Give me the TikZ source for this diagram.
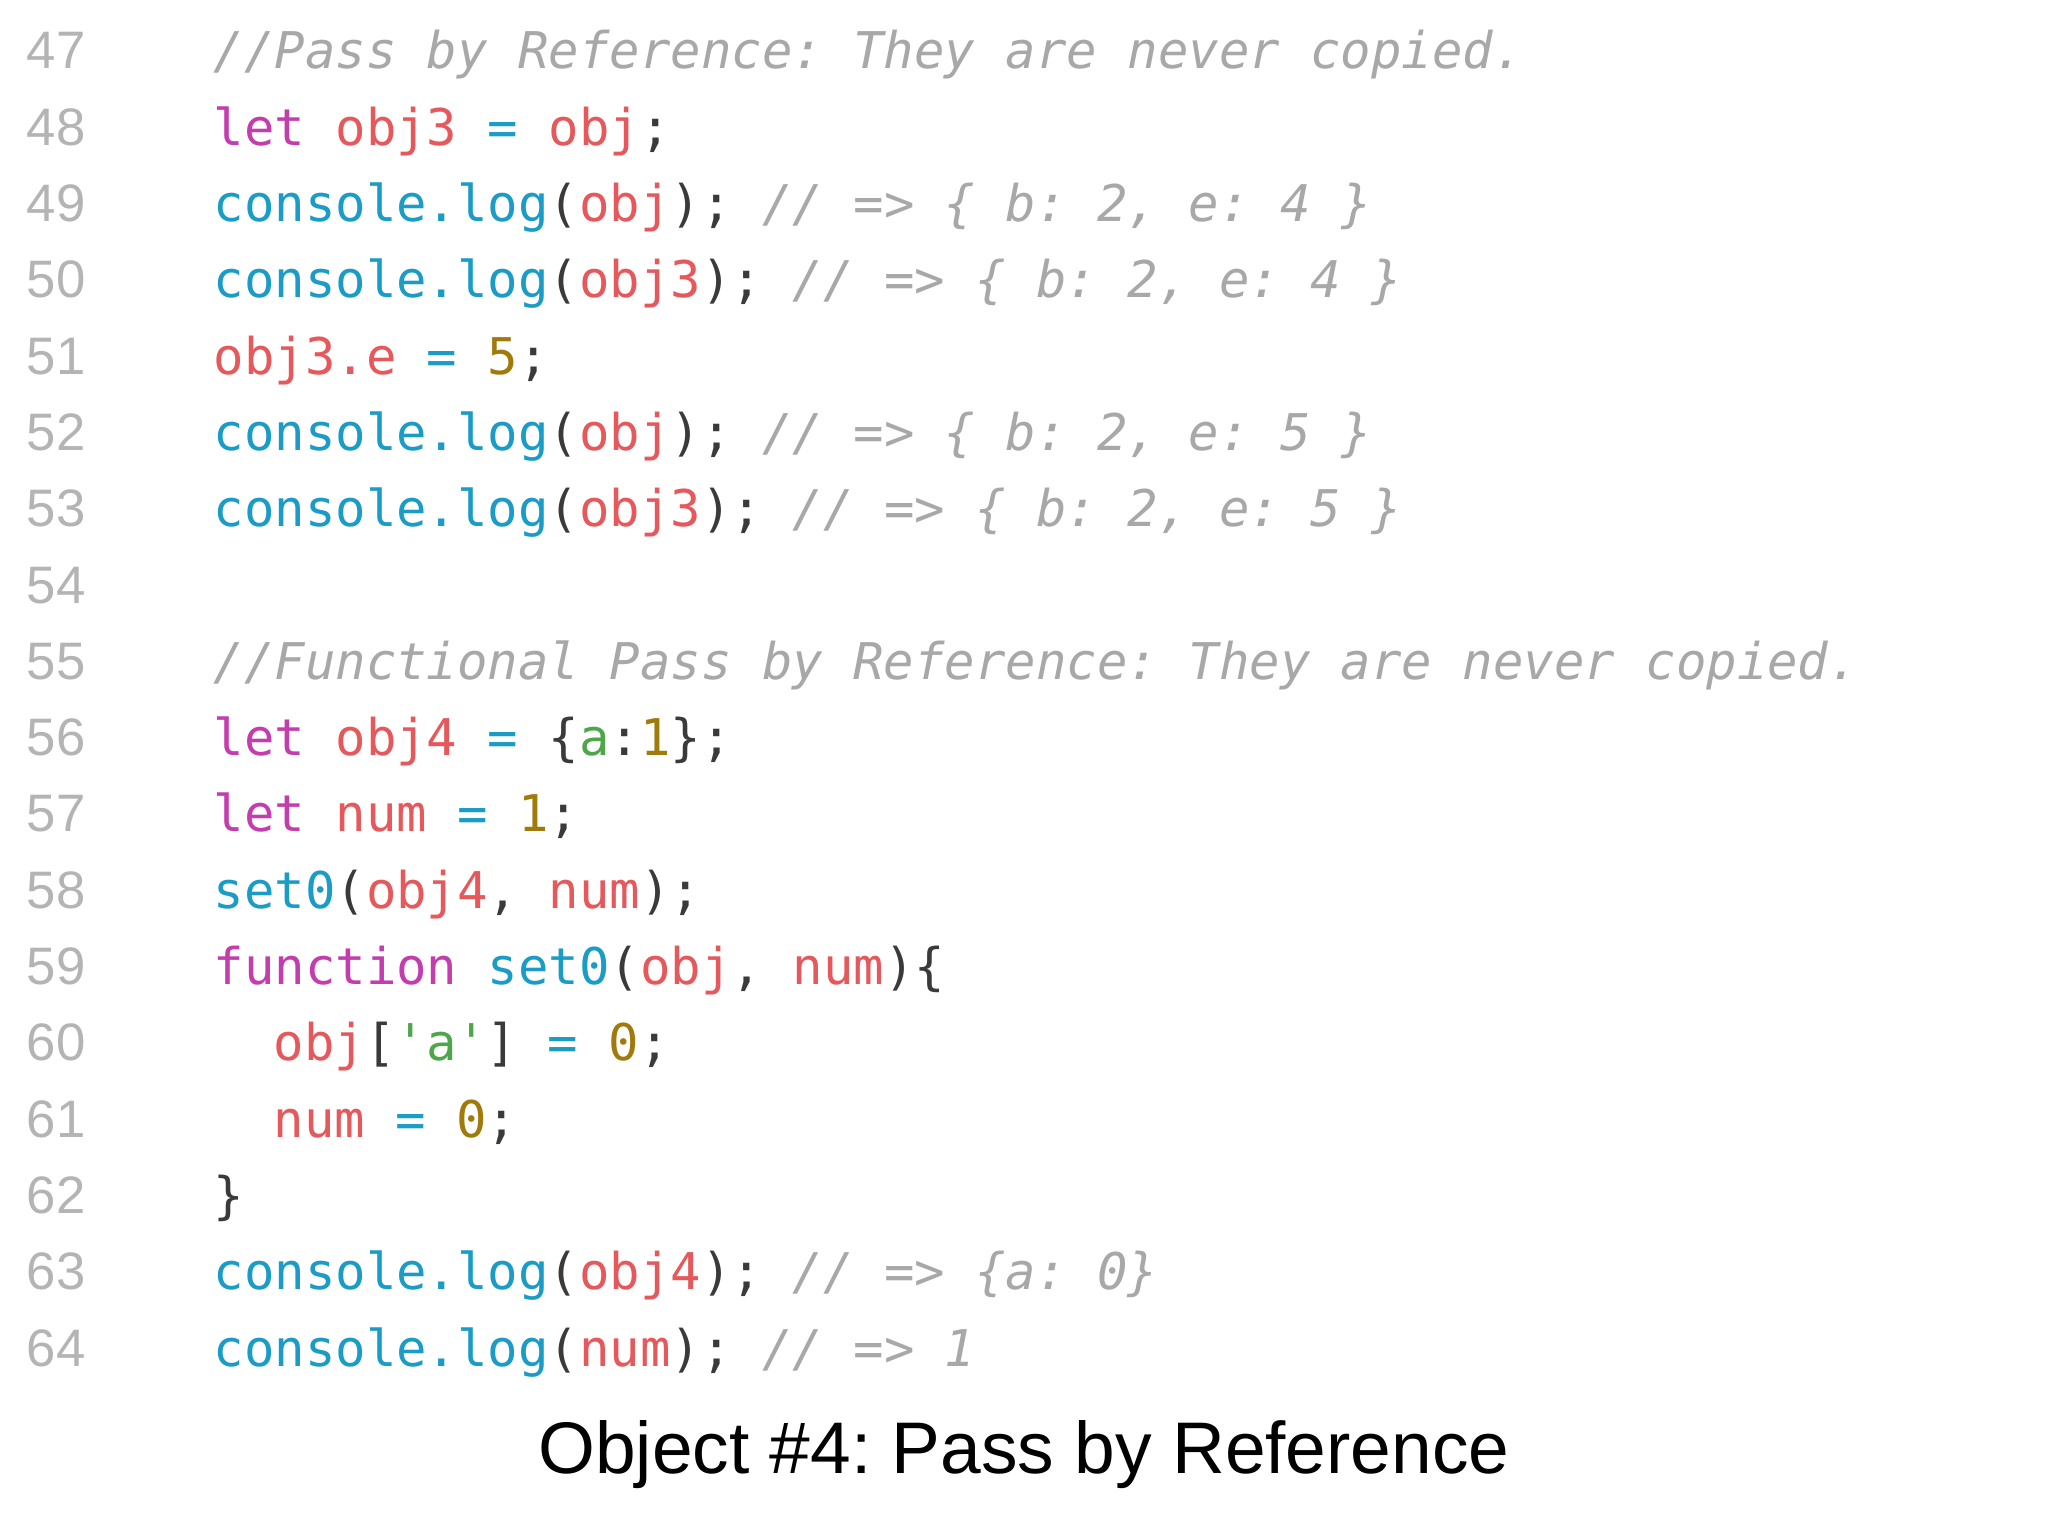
\documentclass[tikz,border=0pt]{standalone}
\usepackage{fontspec}
\setmainfont{Liberation Sans}
\setmonofont{DejaVu Sans Mono}
\frenchspacing
\definecolor{kw}{HTML}{C43DAE}
\definecolor{vr}{HTML}{E5585C}
\definecolor{fn}{HTML}{1A9CC6}
\definecolor{nm}{HTML}{A07A0A}
\definecolor{st}{HTML}{4EA64A}
\definecolor{cm}{HTML}{A8A8A8}
\definecolor{pu}{HTML}{3A3A3A}
\definecolor{ln}{HTML}{B4B4B4}
\newcommand{\K}[1]{\textcolor{kw}{#1}}
\newcommand{\V}[1]{\textcolor{vr}{#1}}
\newcommand{\F}[1]{\textcolor{fn}{#1}}
\newcommand{\N}[1]{\textcolor{nm}{#1}}
\newcommand{\Sg}[1]{\textcolor{st}{#1}}
\newcommand{\C}[1]{\textcolor{cm}{\itshape #1}}
\newcommand{\Pu}[1]{\textcolor{pu}{#1}}
\begin{document}
\begin{tikzpicture}[x=1cm,y=1cm,
  num/.style={anchor=base west,inner sep=0pt,font=\fontsize{15pt}{15pt}\selectfont,text=ln},
  code/.style={anchor=base west,inner sep=0pt,font=\ttfamily\fontsize{14.4pt}{14.4pt}\selectfont}]
\fill[white] (0,0) rectangle (20.48,15.36);
\useasboundingbox (0,0) rectangle (20.48,15.36);
\foreach \i in {47,...,64}{
  \node[num] (n\i) at (0.26,{15.36-0.69-0.763*(\i-47)}) {\i};
}
\newcommand{\ly}[1]{15.36-0.69-0.763*(#1-47)}
\node[code] (c47) at (2.13,{\ly{47}}) {\C{//Pass by Reference: They are never copied.}};
\node[code] (c48) at (2.13,{\ly{48}}) {\K{let} \V{obj3} \F{=} \V{obj}\Pu{;}};
\node[code] (c49) at (2.13,{\ly{49}}) {\F{console.log}\Pu{(}\V{obj}\Pu{);} \C{// => \{ b: 2, e: 4 \}}};
\node[code] (c50) at (2.13,{\ly{50}}) {\F{console.log}\Pu{(}\V{obj3}\Pu{);} \C{// => \{ b: 2, e: 4 \}}};
\node[code] (c51) at (2.13,{\ly{51}}) {\V{obj3.e} \F{=} \N{5}\Pu{;}};
\node[code] (c52) at (2.13,{\ly{52}}) {\F{console.log}\Pu{(}\V{obj}\Pu{);} \C{// => \{ b: 2, e: 5 \}}};
\node[code] (c53) at (2.13,{\ly{53}}) {\F{console.log}\Pu{(}\V{obj3}\Pu{);} \C{// => \{ b: 2, e: 5 \}}};
\node[code] (c55) at (2.13,{\ly{55}}) {\C{//Functional Pass by Reference: They are never copied.}};
\node[code] (c56) at (2.13,{\ly{56}}) {\K{let} \V{obj4} \F{=} \Pu{\{}\Sg{a}\Pu{:}\N{1}\Pu{\};}};
\node[code] (c57) at (2.13,{\ly{57}}) {\K{let} \V{num} \F{=} \N{1}\Pu{;}};
\node[code] (c58) at (2.13,{\ly{58}}) {\F{set0}\Pu{(}\V{obj4}\Pu{,} \V{num}\Pu{);}};
\node[code] (c59) at (2.13,{\ly{59}}) {\K{function} \F{set0}\Pu{(}\V{obj}\Pu{,} \V{num}\Pu{)\{}};
\node[code] (c60) at (2.73,{\ly{60}}) {\V{obj}\Pu{[}\Sg{'a'}\Pu{]} \F{=} \N{0}\Pu{;}};
\node[code] (c61) at (2.73,{\ly{61}}) {\V{num} \F{=} \N{0}\Pu{;}};
\node[code] (c62) at (2.13,{\ly{62}}) {\Pu{\}}};
\node[code] (c63) at (2.13,{\ly{63}}) {\F{console.log}\Pu{(}\V{obj4}\Pu{);} \C{// => \{a: 0\}}};
\node[code] (c64) at (2.13,{\ly{64}}) {\F{console.log}\Pu{(}\V{num}\Pu{);} \C{// => 1}};
\node[anchor=base,inner sep=0pt,font=\fontsize{20.8pt}{20.8pt}\selectfont,text=black] (cap) at (10.24,0.62) {Object \#4: Pass by Reference};
\end{tikzpicture}
\end{document}
